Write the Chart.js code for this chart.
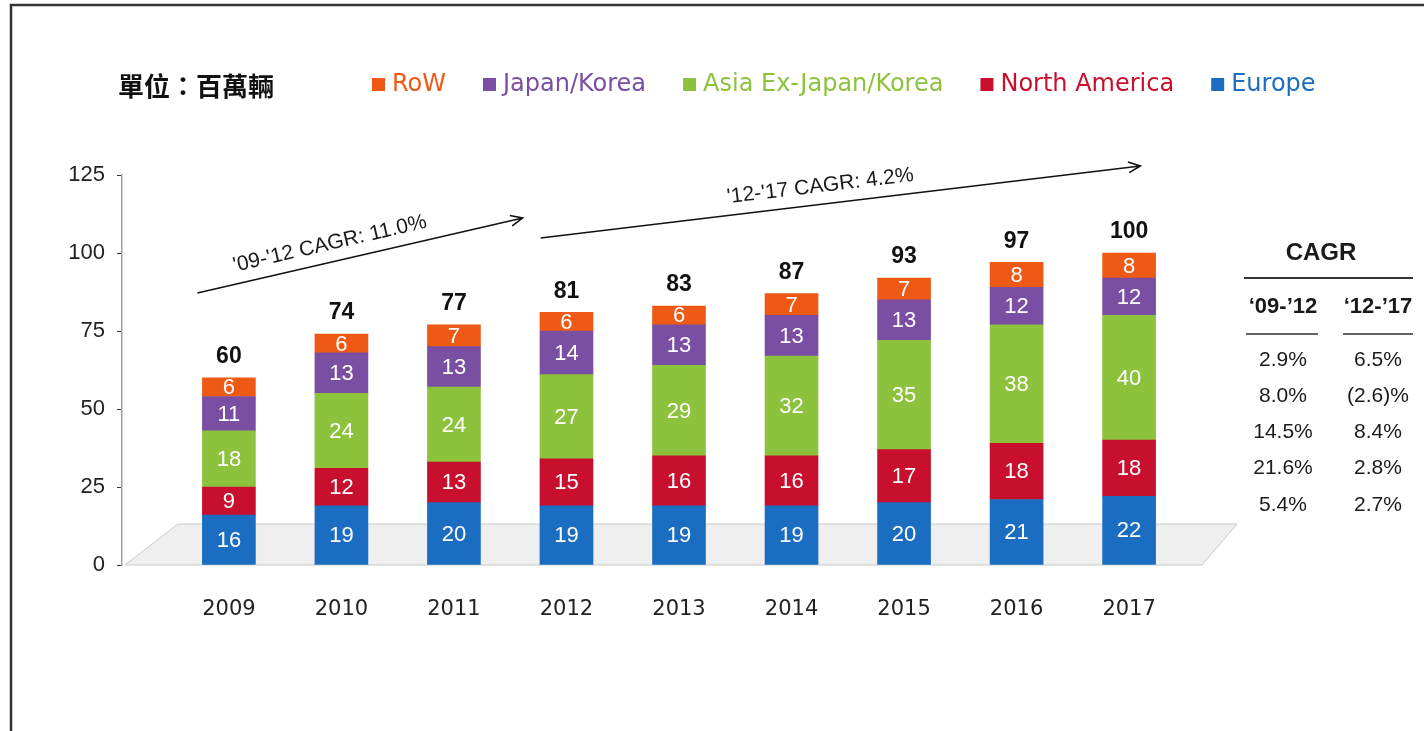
<!DOCTYPE html>
<html>
<head>
<meta charset="utf-8">
<script src="https://cdn.jsdelivr.net/npm/chart.js@4"></script>
<style>
  html, body { margin: 0; padding: 0; background: #fff; }
  #wrap { width: 1424px; height: 731px; position: relative; }
</style>
</head>
<body>
<div id="wrap"><canvas id="chart"></canvas></div>
<script>
// data (millions of vehicles)
const categories = ['2009', '2010', '2011', '2012', '2013', '2014', '2015', '2016', '2017'];
const europe       = [16, 19, 20, 19, 19, 19, 20, 21, 22];
const northAmerica = [9, 12, 13, 15, 16, 16, 17, 18, 18];
const asiaExJK     = [18, 24, 24, 27, 29, 32, 35, 38, 40];
const japanKorea   = [11, 13, 13, 14, 13, 13, 13, 12, 12];
const rowData      = [6, 6, 7, 6, 6, 7, 7, 8, 8];
const totals       = [60, 74, 77, 81, 83, 87, 93, 97, 100];

const cagrRows0912 = ['2.9%', '8.0%', '14.5%', '21.6%', '5.4%'];
const cagrRows1217 = ['6.5%', '(2.6)%', '8.4%', '2.8%', '2.7%'];
const cagrArrows = ["'09-'12 CAGR: 11.0%", "'12-'17 CAGR: 4.2%"];

const years = categories.map(Number);
const toXY = arr => arr.map((v, i) => ({ x: years[i], y: v }));

const colors = {
  europe: '#1b6dc1',
  na: '#c8102e',
  asia: '#8cc23c',
  jk: '#7a4ea3',
  row: '#ee5a15'
};

// stack order bottom -> top
const datasets = [
  { label: 'Europe', data: toXY(europe), backgroundColor: colors.europe },
  { label: 'North America', data: toXY(northAmerica), backgroundColor: colors.na },
  { label: 'Asia Ex-Japan/Korea', data: toXY(asiaExJK), backgroundColor: colors.asia },
  { label: 'Japan/Korea', data: toXY(japanKorea), backgroundColor: colors.jk },
  { label: 'RoW', data: toXY(rowData), backgroundColor: colors.row }
];

function arrow(ctx, x1, y1, x2, y2) {
  const a = Math.atan2(y2 - y1, x2 - x1);
  ctx.beginPath();
  ctx.moveTo(x1, y1);
  ctx.lineTo(x2, y2);
  ctx.moveTo(x2 - 13 * Math.cos(a - 0.42), y2 - 13 * Math.sin(a - 0.42));
  ctx.lineTo(x2, y2);
  ctx.lineTo(x2 - 13 * Math.cos(a + 0.42), y2 - 13 * Math.sin(a + 0.42));
  ctx.stroke();
}

const decor = {
  id: 'decor',
  beforeDatasetsDraw(chart) {
    // flat 3d floor under the bars
    const { ctx, chartArea } = chart;
    const y0 = chart.scales.y.getPixelForValue(0);
    ctx.save();
    ctx.beginPath();
    ctx.moveTo(chartArea.left + 3, y0);
    ctx.lineTo(chartArea.left + 56, y0 - 41);
    ctx.lineTo(chartArea.right + 1, y0 - 41);
    ctx.lineTo(chartArea.right - 34, y0);
    ctx.closePath();
    ctx.fillStyle = '#efefef';
    ctx.fill();
    ctx.strokeStyle = '#c9c9c9';
    ctx.lineWidth = 1;
    ctx.stroke();
    ctx.restore();
  },
  afterDatasetsDraw(chart) {
    const { ctx } = chart;
    ctx.save();
    ctx.textAlign = 'center';
    ctx.textBaseline = 'middle';
    ctx.fillStyle = '#fff';
    ctx.font = '22px "Liberation Sans", Arial, sans-serif';
    chart.data.datasets.forEach((ds, di) => {
      chart.getDatasetMeta(di).data.forEach((bar, i) => {
        ctx.fillText(String(ds.data[i].y), bar.x, (bar.y + bar.base) / 2 + 1);
      });
    });
    const top = chart.getDatasetMeta(chart.data.datasets.length - 1).data;
    ctx.fillStyle = '#111';
    ctx.font = 'bold 23px "Liberation Sans", Arial, sans-serif';
    top.forEach((bar, i) => ctx.fillText(String(totals[i]), bar.x, bar.y - 21));
    ctx.restore();
  },
  afterDraw(chart) {
    const { ctx } = chart;
    const xs = chart.scales.x, ys = chart.scales.y;
    ctx.save();

    // frame
    ctx.strokeStyle = '#333';
    ctx.lineWidth = 2.5;
    ctx.beginPath();
    ctx.moveTo(11, 740);
    ctx.lineTo(11, 5);
    ctx.lineTo(1430, 5);
    ctx.stroke();

    // unit title
    ctx.fillStyle = '#111';
    ctx.textBaseline = 'middle';
    ctx.textAlign = 'left';
    ctx.font = 'bold 26px "Noto Sans CJK TC", sans-serif';
    ctx.fillText('單位：百萬輛', 118, 86);

    // legend (top of stack first)
    ctx.font = '24px "DejaVu Sans", sans-serif';
    let lx = 372;
    chart.data.datasets.slice().reverse().forEach(ds => {
      ctx.fillStyle = ds.backgroundColor;
      ctx.fillRect(lx, 78, 13, 13);
      ctx.fillText(ds.label, lx + 20, 85);
      lx += 20 + ctx.measureText(ds.label).width + 37;
    });

    // CAGR arrows, anchored on the data scales
    const arrows = [
      { from: [2008.72, 87.2], to: [2011.61, 111.2], t: 0.42 },
      { from: [2011.77, 104.8], to: [2017.1, 127.9], t: 0.47 }
    ];
    ctx.strokeStyle = '#111';
    ctx.lineWidth = 1.6;
    ctx.font = '21px "Liberation Sans", Arial, sans-serif';
    ctx.textAlign = 'center';
    arrows.forEach((a, k) => {
      const x1 = xs.getPixelForValue(a.from[0]), y1 = ys.getPixelForValue(a.from[1]);
      const x2 = xs.getPixelForValue(a.to[0]), y2 = ys.getPixelForValue(a.to[1]);
      arrow(ctx, x1, y1, x2, y2);
      const ang = Math.atan2(y2 - y1, x2 - x1);
      const cx = x1 + (x2 - x1) * a.t, cy = y1 + (y2 - y1) * a.t;
      ctx.save();
      ctx.translate(cx, cy);
      ctx.rotate(ang);
      ctx.fillStyle = '#1a1a1a';
      ctx.fillText(cagrArrows[k], 0, -18);
      ctx.restore();
    });

    // CAGR table
    ctx.fillStyle = '#1a1a1a';
    ctx.strokeStyle = '#333';
    ctx.font = 'bold 24px "Liberation Sans", Arial, sans-serif';
    ctx.fillText('CAGR', 1321, 253);
    ctx.lineWidth = 2;
    ctx.beginPath(); ctx.moveTo(1244, 278); ctx.lineTo(1413, 278); ctx.stroke();
    ctx.font = 'bold 22px "Liberation Sans", Arial, sans-serif';
    ctx.fillText("\u2018" + "09-\u201912", 1283, 307);
    ctx.fillText("\u2018" + "12-\u201917", 1378, 307);
    ctx.lineWidth = 1.5;
    ctx.beginPath();
    ctx.moveTo(1246, 334); ctx.lineTo(1318, 334);
    ctx.moveTo(1343, 334); ctx.lineTo(1413, 334);
    ctx.stroke();
    ctx.font = '21px "Liberation Sans", Arial, sans-serif';
    cagrRows0912.forEach((v, i) => ctx.fillText(v, 1283, 360 + i * 36.2));
    cagrRows1217.forEach((v, i) => ctx.fillText(v, 1378, 360 + i * 36.2));

    ctx.restore();
  }
};

new Chart(document.getElementById('chart'), {
  type: 'bar',
  data: { datasets },
  options: {
    responsive: true,
    maintainAspectRatio: false,
    animation: false,
    layout: { padding: { top: 175, right: 188, left: 0, bottom: 0 } },
    datasets: { bar: { barThickness: 53, borderWidth: 0 } },
    plugins: { legend: { display: false }, tooltip: { enabled: false } },
    scales: {
      x: {
        type: 'linear',
        stacked: true,
        min: 2008.05,
        max: 2017.95,
        offset: false,
        afterBuildTicks: s => { s.ticks = years.map(v => ({ value: v })); },
        afterFit: s => { s.height = 166; },
        grid: { display: false },
        border: { display: false },
        ticks: {
          padding: 24,
          color: '#222',
          font: { family: '"DejaVu Sans", sans-serif', size: 21 },
          callback: (v) => categories[years.indexOf(v)] || ''
        }
      },
      y: {
        stacked: true,
        min: 0,
        max: 125,
        afterFit: s => { s.width = 122; },
        grid: { drawOnChartArea: false, drawTicks: true, tickLength: 5, tickColor: '#333' },
        border: { display: true, color: '#a0a0a0', width: 1.5 },
        ticks: {
          stepSize: 25,
          padding: 12,
          color: '#222',
          font: { family: '"Liberation Sans", Arial, sans-serif', size: 22 }
        }
      }
    }
  },
  plugins: [decor]
});
</script>
</body>
</html>
